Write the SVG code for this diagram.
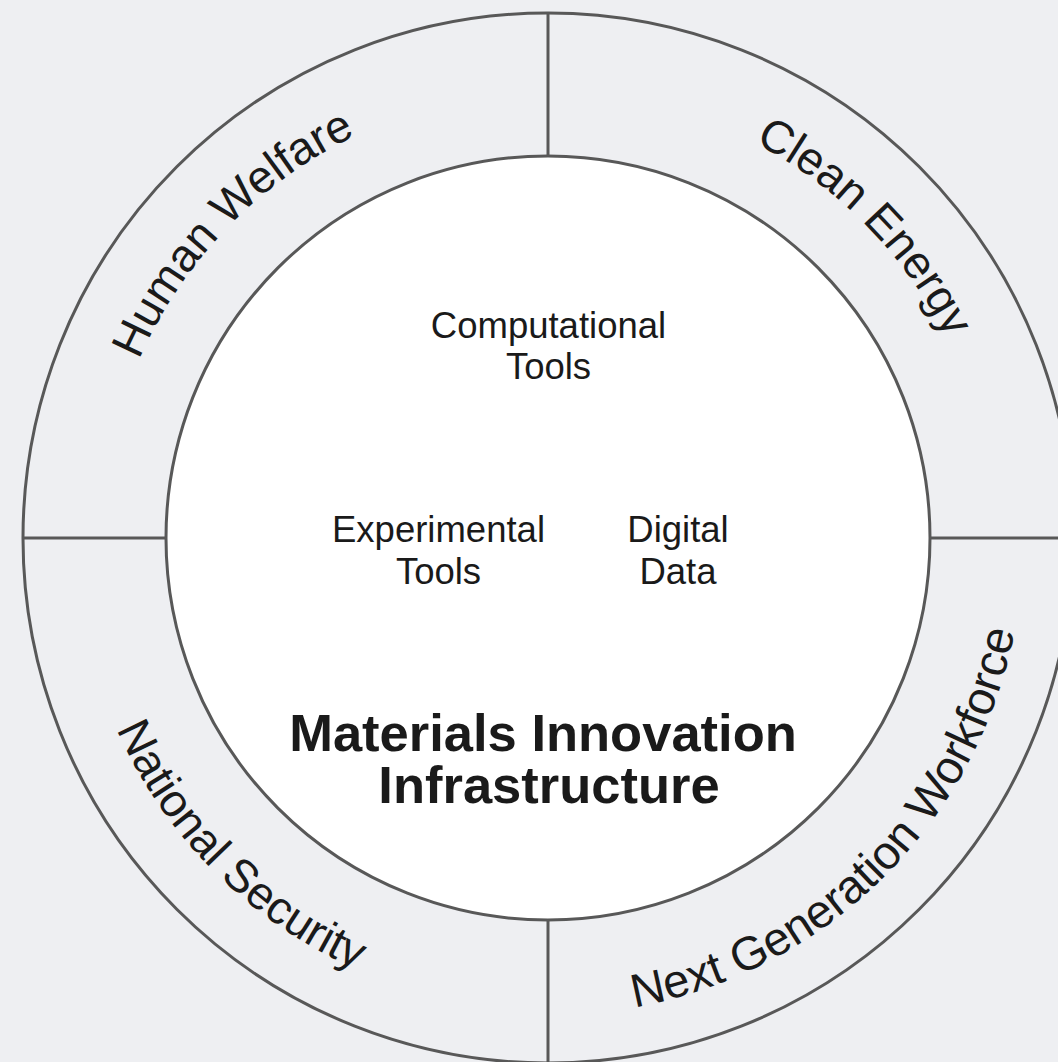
<svg xmlns="http://www.w3.org/2000/svg" xmlns:xlink="http://www.w3.org/1999/xlink" width="1058" height="1062" viewBox="0 0 1058 1062">
  <style>
    .ring { fill: none; stroke: #585858; stroke-width: 3; }
    .div { stroke: #585858; stroke-width: 3; }
    .lbl { font-family: "Liberation Sans", Arial, Helvetica, sans-serif; fill: #1a1a1a; }
    .ringtxt { font-size: 46px; }
    .ringtxt-lg { font-size: 47px; }
    .tool { font-size: 36.5px; text-anchor: middle; }
    .title { font-size: 52.5px; font-weight: bold; text-anchor: middle; }
  </style>
  <defs>
    <path id="arcHW" d="M104.44,584.62 A446,446 0 0 1 579.11,93.09"/>
    <path id="arcCE" d="M513.01,93.37 A446,446 0 0 1 991.95,580.75"/>
    <path id="arcNS" d="M77.80,496.86 A472,472 0 0 0 589.14,1008.20"/>
    <path id="arcNG" d="M414.3,995.0 A473,473 0 0 0 1004.5,410.6"/>
  </defs>
  <rect x="0" y="0" width="1058" height="1062" fill="#eeeff2"/>

  <g id="frame">
    <circle class="ring" cx="548" cy="538" r="525"/>
    <circle cx="548" cy="538" r="382" fill="#ffffff" stroke="#585858" stroke-width="3"/>
  </g>

  <g id="connectors">
    <line class="div" x1="548" y1="13" x2="548" y2="156"/>
    <line class="div" x1="548" y1="920" x2="548" y2="1063"/>
    <line class="div" x1="23" y1="538" x2="166" y2="538"/>
    <line class="div" x1="930" y1="538" x2="1073" y2="538"/>
  </g>

  <g id="node-human-welfare">
    <text class="lbl ringtxt"><textPath xlink:href="#arcHW" href="#arcHW" startOffset="50%" text-anchor="middle">Human Welfare</textPath></text>
  </g>
  <g id="node-clean-energy">
    <text class="lbl ringtxt"><textPath xlink:href="#arcCE" href="#arcCE" startOffset="50%" text-anchor="middle">Clean Energy</textPath></text>
  </g>
  <g id="node-national-security">
    <text class="lbl ringtxt"><textPath xlink:href="#arcNS" href="#arcNS" startOffset="50%" text-anchor="middle">National Security</textPath></text>
  </g>
  <g id="node-next-generation-workforce">
    <text class="lbl ringtxt-lg"><textPath xlink:href="#arcNG" href="#arcNG" startOffset="50%" text-anchor="middle">Next Generation Workforce</textPath></text>
  </g>

  <g id="node-computational-tools">
    <text class="lbl tool" x="548.5" y="338">Computational</text>
    <text class="lbl tool" x="548.5" y="379">Tools</text>
  </g>
  <g id="node-experimental-tools">
    <text class="lbl tool" x="438.5" y="542">Experimental</text>
    <text class="lbl tool" x="438.5" y="584">Tools</text>
  </g>
  <g id="node-digital-data">
    <text class="lbl tool" x="678" y="542">Digital</text>
    <text class="lbl tool" x="678" y="584">Data</text>
  </g>
  <g id="node-materials-innovation-infrastructure">
    <text class="lbl title" x="543" y="751">Materials Innovation</text>
    <text class="lbl title" x="549" y="803">Infrastructure</text>
  </g>
</svg>
